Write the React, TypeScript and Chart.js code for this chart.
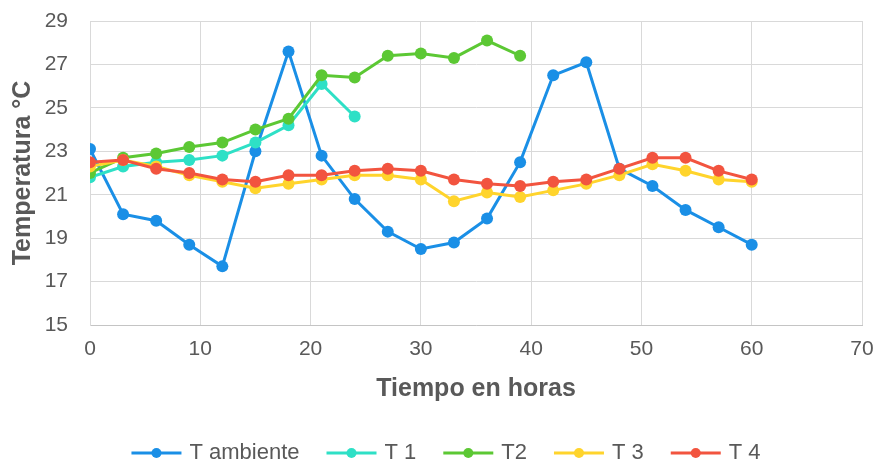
import React, { useEffect, useRef } from "react";
import { Chart, registerables } from "chart.js";

Chart.register(...registerables);

const hours = [0, 3, 6, 9, 12, 15, 18, 21, 24, 27, 30, 33, 36, 39, 42, 45, 48, 51, 54, 57, 60];
const tAmbiente = [23.1, 20.1, 19.8, 18.7, 17.7, 23.0, 27.6, 22.8, 20.8, 19.3, 18.5, 18.8, 19.9, 22.5, 26.5, 27.1, 22.2, 21.4, 20.3, 19.5, 18.7];
const t1 = [21.8, 22.3, 22.5, 22.6, 22.8, 23.4, 24.2, 26.1, 24.6];
const t2 = [22.0, 22.7, 22.9, 23.2, 23.4, 24.0, 24.5, 26.5, 26.4, 27.4, 27.5, 27.3, 28.1, 27.4];
const t3 = [22.3, 22.6, 22.3, 21.9, 21.6, 21.3, 21.5, 21.7, 21.9, 21.9, 21.7, 20.7, 21.1, 20.9, 21.2, 21.5, 21.9, 22.4, 22.1, 21.7, 21.6];
const t4 = [22.5, 22.6, 22.2, 22.0, 21.7, 21.6, 21.9, 21.9, 22.1, 22.2, 22.1, 21.7, 21.5, 21.4, 21.6, 21.7, 22.2, 22.7, 22.7, 22.1, 21.7];

const seriesLabels = ["T ambiente", "T 1", "T2", "T 3", "T 4"];
const seriesColors = ["#1A8FE6", "#2EE0C6", "#5CC834", "#FFD42C", "#F2543F"];
const seriesValues = [tAmbiente, t1, t2, t3, t4];

const xTitle = "Tiempo en horas";
const yTitle = "Temperatura °C";

const FONT = "'Liberation Sans', Arial, sans-serif";
const GRAY = "#595959";

const legendPlugin = {
  id: "lineLegend",
  afterDraw(chart: any) {
    const ctx = chart.ctx;
    ctx.save();
    ctx.font = `22px ${FONT}`;
    const lineLen = 50;
    const gapText = 8;
    const gapItem = 27;
    const items = chart.data.datasets.map((ds: any) => ({
      label: ds.label,
      color: ds.borderColor,
      w: lineLen + gapText + ctx.measureText(ds.label).width,
    }));
    const total = items.reduce((s: number, it: any) => s + it.w, 0) + gapItem * (items.length - 1);
    let x = 446 - total / 2;
    const y = 453;
    for (const it of items) {
      ctx.strokeStyle = it.color;
      ctx.lineWidth = 3;
      ctx.beginPath();
      ctx.moveTo(x, y);
      ctx.lineTo(x + lineLen, y);
      ctx.stroke();
      ctx.fillStyle = it.color;
      ctx.beginPath();
      ctx.arc(x + lineLen / 2, y, 5, 0, Math.PI * 2);
      ctx.fill();
      ctx.fillStyle = GRAY;
      ctx.textBaseline = "middle";
      ctx.textAlign = "left";
      ctx.fillText(it.label, x + lineLen + gapText, y);
      x += it.w + gapItem;
    }
    ctx.restore();
  },
};

export default function App() {
  const ref = useRef<HTMLCanvasElement>(null);
  useEffect(() => {
    if (!ref.current) return;
    const datasets = seriesValues.map((vals, i) => ({
      label: seriesLabels[i],
      data: vals.map((v, j) => ({ x: hours[j], y: v })),
      borderColor: seriesColors[i],
      backgroundColor: seriesColors[i],
      pointBackgroundColor: seriesColors[i],
      pointBorderColor: seriesColors[i],
      borderWidth: 3,
      pointRadius: 6,
      pointBorderWidth: 0,
      tension: 0,
      fill: false,
      order: seriesValues.length - i,
    }));
    const chart = new Chart(ref.current, {
      type: "line",
      data: { datasets },
      plugins: [legendPlugin],
      options: {
        responsive: false,
        animation: false,
        layout: { padding: { top: 21, right: 15, bottom: 54, left: 0 } },
        plugins: { legend: { display: false }, tooltip: { enabled: false } },
        scales: {
          x: {
            type: "linear",
            min: 0,
            max: 70,
            afterFit: (s: any) => { s.height = 90; },
            ticks: { stepSize: 10, color: GRAY, font: { family: FONT, size: 21 }, padding: 2, maxRotation: 0 },
            grid: { color: "#d9d9d9", lineWidth: 1, drawTicks: true, tickLength: 10, tickColor: "rgba(0,0,0,0)" },
            border: { color: "#c4c4c4", width: 1 },
            title: { display: true, text: xTitle, color: GRAY, font: { family: FONT, size: 25, weight: "bold" }, padding: { top: 0, bottom: 11 } },
          },
          y: {
            min: 15,
            max: 29,
            afterFit: (s: any) => { s.width = 90; },
            ticks: { stepSize: 2, color: GRAY, font: { family: FONT, size: 21 }, padding: 2 },
            grid: { color: "#d9d9d9", lineWidth: 1, drawTicks: true, tickLength: 20, tickColor: "rgba(0,0,0,0)" },
            border: { color: "#d9d9d9", width: 1 },
            title: { display: true, text: yTitle, color: GRAY, font: { family: FONT, size: 25, weight: "bold" }, padding: { top: 8, bottom: 0 } },
          },
        },
      },
    } as any);
    return () => chart.destroy();
  }, []);
  return (
    <div style={{ position: "fixed", left: 0, top: 0, width: 877, height: 469, background: "#fff" }}>
      <canvas ref={ref} width={877} height={469} />
    </div>
  );
}
